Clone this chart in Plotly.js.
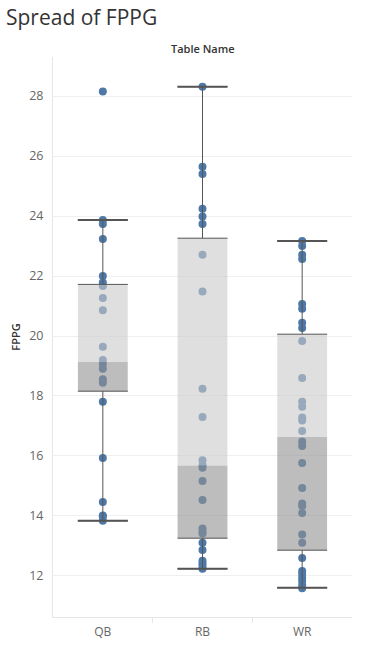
<!DOCTYPE html>
<html>
<head>
<meta charset="utf-8">
<script src="https://cdn.plot.ly/plotly-3.0.1.min.js"></script>
<style>
  html, body { margin: 0; padding: 0; background: #fff; }
  #chart { width: 373px; height: 645px; }
</style>
</head>
<body>
<div id="chart"></div>
<script>
const categories = ['QB', 'RB', 'WR'];

const qbValues = [28.15, 23.87, 23.73, 23.23, 22.0, 21.78, 21.67, 21.27, 20.86, 19.64, 19.2, 19.07, 18.91, 18.56, 18.44, 17.81, 15.93, 14.47, 14.02, 13.98, 13.84];
const rbValues = [28.31, 25.64, 25.4, 24.24, 23.98, 23.73, 22.71, 21.48, 18.24, 17.3, 15.86, 15.69, 15.61, 15.17, 14.53, 13.58, 13.49, 13.42, 13.11, 12.87, 12.51, 12.42, 12.33, 12.24];
const wrValues = [23.17, 23.0, 22.71, 22.57, 21.07, 20.91, 20.44, 20.27, 19.83, 18.6, 17.81, 17.64, 17.28, 17.18, 16.83, 16.48, 16.33, 15.77, 14.93, 14.42, 14.33, 14.1, 13.38, 13.11, 12.6, 12.17, 12.07, 11.94, 11.83, 11.7, 11.59];

const lowerWhisker = [13.84, 12.24, 11.61];
const q1 = [18.16, 13.26, 12.86];
const median = [19.13, 15.68, 16.63];
const q3 = [21.72, 23.26, 20.06];
const upperWhisker = [23.87, 28.31, 23.17];

const tickValuesY = [12, 14, 16, 18, 20, 22, 24, 26, 28];

const seriesValues = [qbValues, rbValues, wrValues];
const boxHalf = 0.25;
const traces = [];

// points
const px = [], py = [];
seriesValues.forEach((vals, i) => vals.forEach(v => { px.push(i); py.push(v); }));
traces.push({
  type: 'scatter', mode: 'markers', x: px, y: py,
  marker: { size: 8, color: '#4e79a7' },
  hoverinfo: 'y', showlegend: false
});

// box bands (drawn over the points, semi-transparent)
categories.forEach((c, i) => {
  const xl = i - boxHalf, xr = i + boxHalf;
  traces.push({
    type: 'scatter', mode: 'lines', fill: 'toself',
    x: [xl, xr, xr, xl, xl], y: [q1[i], q1[i], median[i], median[i], q1[i]],
    line: { width: 0 }, fillcolor: 'rgba(145,145,145,0.6)',
    hoverinfo: 'skip', showlegend: false
  });
  traces.push({
    type: 'scatter', mode: 'lines', fill: 'toself',
    x: [xl, xr, xr, xl, xl], y: [median[i], median[i], q3[i], q3[i], median[i]],
    line: { width: 0 }, fillcolor: 'rgba(202,202,202,0.6)',
    hoverinfo: 'skip', showlegend: false
  });
});

const idx = categories.map((c, i) => i);
const zeros = categories.map(() => 0);
// upper whisker with Q3 edge
traces.push({
  type: 'scatter', mode: 'markers', x: idx, y: q3,
  marker: { size: 1, color: 'rgba(0,0,0,0)' },
  error_y: { type: 'data', symmetric: false, array: upperWhisker.map((u, i) => u - q3[i]), arrayminus: zeros,
             width: 25, thickness: 1, color: '#555' },
  hoverinfo: 'skip', showlegend: false
});
// lower whisker with Q1 edge
traces.push({
  type: 'scatter', mode: 'markers', x: idx, y: q1,
  marker: { size: 1, color: 'rgba(0,0,0,0)' },
  error_y: { type: 'data', symmetric: false, array: zeros, arrayminus: q1.map((q, i) => q - lowerWhisker[i]),
             width: 25, thickness: 1, color: '#555' },
  hoverinfo: 'skip', showlegend: false
});
// whisker caps (thicker)
[upperWhisker, lowerWhisker].forEach(w => {
  traces.push({
    type: 'scatter', mode: 'markers', x: idx, y: w,
    marker: { size: 1, color: 'rgba(0,0,0,0)' },
    error_y: { type: 'data', symmetric: false, array: zeros, arrayminus: zeros,
               width: 25, thickness: 2, color: '#555' },
    hoverinfo: 'skip', showlegend: false
  });
});

const layout = {
  width: 373, height: 645,
  margin: { l: 53, r: 21, t: 57, b: 28 },
  paper_bgcolor: '#fff', plot_bgcolor: '#fff',
  font: { family: 'Open Sans, sans-serif', color: '#666' },
  title: {
    text: 'Spread of FPPG',
    font: { family: 'Open Sans, sans-serif', size: 21, color: '#333' },
    xref: 'container', x: 6 / 373, xanchor: 'left',
    yref: 'container', y: 1 - 18 / 645, yanchor: 'middle'
  },
  showlegend: false,
  xaxis: {
    range: [-0.5, 2.5], fixedrange: true,
    tickmode: 'array', tickvals: idx, ticktext: categories,
    ticks: '', ticklabelstandoff: 4, showgrid: false, zeroline: false,
    showline: true, linecolor: '#e6e6e6', linewidth: 1,
    tickfont: { size: 12, color: '#666' },
    minor: { tickmode: 'array', tickvals: [0.5, 1.5], ticks: 'outside', ticklen: 5, tickcolor: '#e6e6e6', showgrid: false }
  },
  yaxis: {
    range: [10.633, 29.3], fixedrange: true,
    tickmode: 'array', tickvals: tickValuesY,
    ticks: '', ticklabelstandoff: 6,
    showgrid: true, gridcolor: '#efefef', gridwidth: 1, zeroline: false,
    showline: true, linecolor: '#e6e6e6', linewidth: 1,
    tickfont: { size: 12.5, color: '#666' },
    title: { text: 'FPPG', standoff: 6, font: { size: 11, color: '#333', weight: 600 } }
  },
  annotations: [{
    text: 'Table Name', xref: 'paper', yref: 'paper', x: 0.5, y: 1 + 9 / 560,
    xanchor: 'center', yanchor: 'middle', showarrow: false,
    font: { size: 11, color: '#333', weight: 600 }
  }]
};

Plotly.newPlot('chart', traces, layout, { displayModeBar: false, staticPlot: true });
</script>
</body>
</html>
